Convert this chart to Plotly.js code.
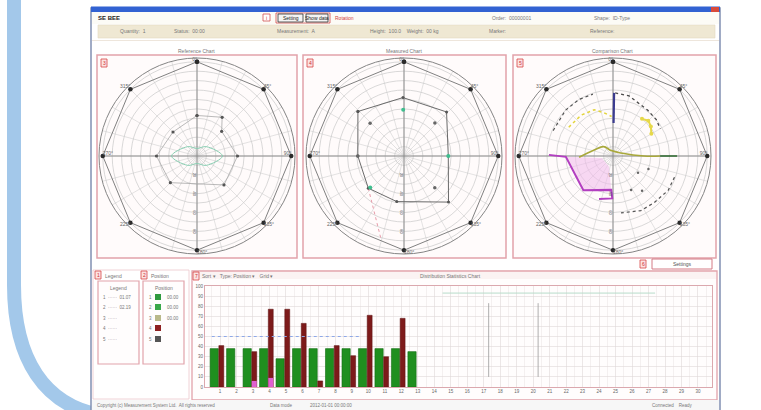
<!DOCTYPE html>
<html><head><meta charset="utf-8">
<script src="https://cdn.plot.ly/plotly-3.0.1.min.js"></script>
<style>html,body{margin:0;padding:0;background:#fff;}#chart{width:761px;height:410px;}</style>
</head><body><div id="chart"></div>
<script>
const W=761,H=410;
const X=x=>x/W, Y=y=>1-y/H;

// ---------- bar chart data ----------
const slotCats=[1,2,3,4,5,6,7,8,9,10,11,12,13,14,15,16,17,18,19,20,21,22,23,24,25,26,27,28,29,30];
const slotLabels=['1','2','3','4','5','6','7','8','9','10','11','12','13','14','15','16','17','18','19','20','21','22','23','24','25','26','27','28','29','30'];
const greenVals=[38,38,38,38,28,38,38,38,38,38,38,38,35,null,null,null,null,null,null,null,null,null,null,null,null,null,null,null,null,null];
const redVals=[41,null,35,77,77,63,6,41,31,71,30,68,null,null,null,null,null,null,null,null,null,null,null,null,null,null,null,null,null,null];
const pinkVals=[null,null,6,9,null,null,null,null,null,null,null,null,null,null,null,null,null,null,null,null,null,null,null,null,null,null,null,null,null,null];
const barYTicks=[0,10,20,30,40,50,60,70,80,90,100];
const barYTickText=['0','10','20','30','40','50','60','70','80','90','100'];
const refLevel=50;
const upperLevel=93;
const cursorSlots=[17.3,20.3];
const cursorRange=[10,83];

// ---------- polar data ----------
const outerTheta=[0,45,90,135,180,225,270,315,0];
const outerR=[100,100,100,100,100,100,100,100,100];
const crossTheta=[0,180,null,90,270];
const crossR=[100,100,null,100,100];
const angleLabelText=['0°','45°','90°','135°','180°','225°','270°','315°'];
const angleLabelTheta=[0,45,90,135,180,225,270,315];
const angleLabelR=[100,100,100,100,100,100,100,100];
const angleLabelPos=['top left','top right','top left','bottom right','bottom right','bottom left','top right','top left'];
const radialTicks=[10,20,30,40,50,60,70,80,90,100];
const radialTickText=['','20','','40','','60','','80','',''];
const spokeTicks=[0,15,30,45,60,75,90,105,120,135,150,165,180,195,210,225,240,255,270,285,300,315,330,345];

// panel 1
const p1Theta=[0,33,45,90,137,225,270,315,0];
const p1R=[43,49,37,43,42,40,43,36,43];
const p1CoreTheta=[0,45,90,135,180,225,270,315,360];
const p1CoreR=[8,14,27,14,8,14,27,14,8];
// panel 2
const p2Theta=[314,359,44,90,136,189,228,270,314];
const p2R=[68,62,65,47,68,49,51,49,68];
const p2DotTheta=[314,43,136,270];
const p2DotR=[50,48,47,49];
const p2GreenTheta=[359,90,227];
const p2GreenR=[49,47,49];
const p2PinkTheta=[228,196];
const p2PinkR=[51,90];
// panel 3
const p3NavyTheta=[1,1];
const p3NavyR=[67,35];
const p3DarkArcTheta=[2,15,37,50,60];
const p3DarkArcR=[67,66,61,60,58];
const p3YellowTheta=[303,322,338,348,358];
const p3YellowR=[56,55,53,47,42];
const p3YellowBlobTheta=[38,45,52,60];
const p3YellowBlobR=[50,53,51,47];
const p3LeftArcTheta=[293,314,329,342];
const p3LeftArcR=[69,70,70,69];
const p3BottomArcTheta=[109,122,139,153,172];
const p3BottomArcR=[69,69,66,65,61];
const p3InnerDotTheta=[124,152,140,110];
const p3InnerDotR=[32,41,48,40];
const p3MagentaTheta=[271,269,221,183,181,198];
const p3MagentaR=[68,50,48,36,45,48];
const p3PinkTheta=[269,221,183,200,260];
const p3PinkR=[50,48,36,12,12];
const p3OliveTheta=[268,288,315,342,69,90,90];
const p3OliveR=[36,21,14,6,9,33,50];
const p3GreenEndTheta=[90,90];
const p3GreenEndR=[50,68];

const FONT='Liberation Sans';
const traces=[];
function polarBase(sp){
  traces.push({type:'scatterpolar',subplot:sp,theta:crossTheta,r:crossR,mode:'lines',line:{color:'#8e8e8e',width:1},hoverinfo:'skip'});
  traces.push({type:'scatterpolar',subplot:sp,theta:outerTheta,r:outerR,mode:'lines+markers',line:{color:'#808080',width:1},marker:{color:'#2a2a2a',size:4.5},hoverinfo:'skip'});
  traces.push({type:'scatterpolar',subplot:sp,theta:angleLabelTheta,r:angleLabelR,mode:'text',text:angleLabelText,textposition:angleLabelPos,textfont:{size:5,color:'#666',family:FONT},cliponaxis:false,hoverinfo:'skip'});
}
polarBase('polar');
traces.push({type:'scatterpolar',subplot:'polar',theta:p1CoreTheta,r:p1CoreR,mode:'lines',line:{color:'#86cdb0',width:1,shape:'spline'},hoverinfo:'skip'});
traces.push({type:'scatterpolar',subplot:'polar',theta:p1Theta,r:p1R,mode:'lines+markers',line:{color:'#a8a8a8',width:0.8},marker:{color:'#555',size:3.2},hoverinfo:'skip'});

polarBase('polar2');
traces.push({type:'scatterpolar',subplot:'polar2',theta:p2PinkTheta,r:p2PinkR,mode:'lines',line:{color:'#e79aa8',width:1,dash:'dot'},hoverinfo:'skip'});
traces.push({type:'scatterpolar',subplot:'polar2',theta:p2Theta,r:p2R,mode:'lines+markers',line:{color:'#6a6a6a',width:1},marker:{color:'#555',size:3},hoverinfo:'skip'});
traces.push({type:'scatterpolar',subplot:'polar2',theta:p2DotTheta,r:p2DotR,mode:'markers',marker:{color:'#666',size:3.5},hoverinfo:'skip'});
traces.push({type:'scatterpolar',subplot:'polar2',theta:p2GreenTheta,r:p2GreenR,mode:'markers',marker:{color:'#3fbf8f',size:4},hoverinfo:'skip'});

polarBase('polar3');
traces.push({type:'scatterpolar',subplot:'polar3',theta:p3PinkTheta,r:p3PinkR,mode:'lines',fill:'toself',fillcolor:'rgba(240,185,235,0.55)',line:{width:0},hoverinfo:'skip'});
traces.push({type:'scatterpolar',subplot:'polar3',theta:p3MagentaTheta,r:p3MagentaR,mode:'lines',line:{color:'#b23fc0',width:2},hoverinfo:'skip'});
traces.push({type:'scatterpolar',subplot:'polar3',theta:p3OliveTheta,r:p3OliveR,mode:'lines',line:{color:'#a8a83a',width:1.6,shape:'spline'},hoverinfo:'skip'});
traces.push({type:'scatterpolar',subplot:'polar3',theta:p3GreenEndTheta,r:p3GreenEndR,mode:'lines',line:{color:'#2f6b2f',width:1.6},hoverinfo:'skip'});
traces.push({type:'scatterpolar',subplot:'polar3',theta:p3YellowTheta,r:p3YellowR,mode:'lines',line:{color:'#e2d43c',width:1.5,dash:'dot'},hoverinfo:'skip'});
traces.push({type:'scatterpolar',subplot:'polar3',theta:p3YellowBlobTheta,r:p3YellowBlobR,mode:'lines+markers',line:{color:'#e6d84a',width:2},marker:{color:'#e6d84a',size:4},hoverinfo:'skip'});
traces.push({type:'scatterpolar',subplot:'polar3',theta:p3DarkArcTheta,r:p3DarkArcR,mode:'lines',line:{color:'#4a4a4a',width:1.3,dash:'dot'},hoverinfo:'skip'});
traces.push({type:'scatterpolar',subplot:'polar3',theta:p3LeftArcTheta,r:p3LeftArcR,mode:'lines',line:{color:'#555',width:1.2,dash:'dot'},hoverinfo:'skip'});
traces.push({type:'scatterpolar',subplot:'polar3',theta:p3BottomArcTheta,r:p3BottomArcR,mode:'lines',line:{color:'#555',width:1.2,dash:'dot'},hoverinfo:'skip'});
traces.push({type:'scatterpolar',subplot:'polar3',theta:p3InnerDotTheta,r:p3InnerDotR,mode:'markers',marker:{color:'#666',size:2.5},hoverinfo:'skip'});
traces.push({type:'scatterpolar',subplot:'polar3',theta:p3NavyTheta,r:p3NavyR,mode:'lines',line:{color:'#3b3b8f',width:2.2},hoverinfo:'skip'});

// bars
traces.push({type:'bar',x:slotCats,y:greenVals,width:0.5,offset:-0.6,marker:{color:'#1f8f1f',line:{color:'#136b13',width:0.6}},hoverinfo:'skip'});
traces.push({type:'bar',x:slotCats,y:redVals,width:0.3,offset:-0.07,marker:{color:'#7d1a1a',line:{color:'#5a1010',width:0.5}},hoverinfo:'skip'});
traces.push({type:'bar',x:slotCats,y:pinkVals,width:0.3,offset:-0.07,marker:{color:'#e05fd0'},hoverinfo:'skip'});

function polarLayout(cx){
  const cy=156,rad=98;
  return {
    domain:{x:[X(cx-rad),X(cx+rad)],y:[Y(cy+rad),Y(cy-rad)]},
    bgcolor:'rgba(0,0,0,0)',
    radialaxis:{range:[0,104],tickmode:'array',tickvals:radialTicks,ticktext:radialTickText,angle:270,tickangle:0,showline:false,ticks:'',gridcolor:'#c9c9c9',gridwidth:0.7,tickfont:{size:4,color:'#444',family:FONT}},
    angularaxis:{direction:'clockwise',rotation:90,tickmode:'array',tickvals:spokeTicks,showticklabels:false,ticks:'',gridcolor:'#d0d0d0',gridwidth:0.6,linecolor:'#858585',linewidth:1}
  };
}

const shapes=[];
function R(x0,y0,x1,y1,o){shapes.push(Object.assign({type:'rect',xref:'paper',yref:'paper',x0:X(x0),x1:X(x1),y0:Y(y1),y1:Y(y0),line:{width:0},layer:'below'},o));}
const pink='#e2a3ab';
// left decorative arc
shapes.push({type:'path',xref:'paper',yref:'paper',layer:'below',
  path:`M ${X(14)},${Y(-5)} L ${X(14)},${Y(285)} C ${X(14)},${Y(360)} ${X(45)},${Y(405)} ${X(100)},${Y(415)}`,
  line:{color:'#a3c8ea',width:14}});
// window
R(91,8,720,412,{fillcolor:'#ffffff',line:{color:'#8190b3',width:1.5}});
R(91,6.5,720,12,{fillcolor:'#3262d2'});
R(711,7,719,12,{fillcolor:'#d84a3a'});
R(92,12,719,24,{fillcolor:'#fcfbf6'});
R(98,25,715,38,{fillcolor:'#efe8d3',line:{color:'#e2d9c0',width:0.6}});
R(92,40,719,41,{fillcolor:'#eee6dc'});
// header buttons
R(263,14,270,21,{fillcolor:'#fff',line:{color:'#d05050',width:0.8}});
R(276,13,330,23,{fillcolor:'rgba(0,0,0,0)',line:{color:'#d04a4a',width:0.8}});
R(278,14,303,22,{fillcolor:'#f4f4f4',line:{color:'#333',width:0.8}});
R(306,14,328,22,{fillcolor:'#f4f4f4',line:{color:'#333',width:0.8}});
// polar panels
R(97,55,297,258,{fillcolor:'#fffbfb',line:{color:pink,width:1.5}});
R(303,55,506,258,{fillcolor:'#fffbfb',line:{color:pink,width:1.5}});
R(513,55,716,258,{fillcolor:'#fffbfb',line:{color:pink,width:1.5}});
// settings button
shapes.push({type:'rect',xref:'paper',yref:'paper',x0:X(652),x1:X(712),y0:Y(269),y1:Y(259),line:{color:'#d47a85',width:1},fillcolor:'#fff',layer:'below'});
// legend boxes
R(93,270,189,399,{fillcolor:'rgba(0,0,0,0)',line:{color:'#ecc7cc',width:0.8}});
R(98,281,139,364,{fillcolor:'#fffdfd',line:{color:pink,width:1.2}});
R(143,281,184,364,{fillcolor:'#fffdfd',line:{color:pink,width:1.2}});
// legend swatches
const swatchColors=['#2f9a3f','#3aa84a','#b9b98a','#8e2020','#555'];
const swatchY=[297,307,318,328,339];
swatchColors.forEach((c,i)=>R(155,swatchY[i]-3,161,swatchY[i]+3,{fillcolor:c,layer:'above'}));
// bar chart frame
R(192,271,717,400,{fillcolor:'#fffdfd',line:{color:pink,width:1.3}});
R(193,272,716,279,{fillcolor:'#fbf3f3'});
// reference levels and cursors
shapes.push({type:'line',xref:'x',yref:'y',x0:slotCats[0]-0.5,x1:slotCats[8]+0.5,y0:refLevel,y1:refLevel,line:{color:'#8ea8e8',width:1,dash:'dot'},layer:'above'});
shapes.push({type:'line',xref:'x',yref:'y',x0:slotCats[13]+0.5,x1:slotCats[26]+0.4,y0:upperLevel,y1:upperLevel,line:{color:'#b7dccb',width:1},layer:'above'});
cursorSlots.forEach(s=>shapes.push({type:'line',xref:'x',yref:'y',x0:s,x1:s,y0:cursorRange[0],y1:cursorRange[1],line:{color:'#9a9a9a',width:0.8},layer:'above'}));
// status bar
R(92,400,719,411,{fillcolor:'#f7f7f7'});

const ann=[];
function T(x,y,t,o){ann.push(Object.assign({xref:'paper',yref:'paper',x:X(x),y:Y(y),text:t,showarrow:false,xanchor:'left',yanchor:'middle',font:{size:5,color:'#777',family:FONT}},o||{}));}
// panel number icons
[[101,59,'3'],[307,59,'4'],[517,59,'5'],[640,260,'6'],[95,271,'1'],[141,271,'2'],[193,272,'7']].forEach(d=>{
  R(d[0],d[1],d[0]+6,d[1]+8,{fillcolor:'#fbe3e3',line:{color:'#d84848',width:0.8},layer:'above'});
  T(d[0]+3,d[1]+4,d[2],{xanchor:'center',font:{size:5,color:'#d03030',family:FONT}});
});
T(96,18,'<b>SE BEE</b>',{font:{size:6,color:'#222',family:FONT}});
T(266.5,17.5,'i',{xanchor:'center',font:{size:5,color:'#d03030',family:FONT}});
T(290.5,18,'Setting',{xanchor:'center',font:{size:5,color:'#222',family:FONT}});
T(317,18,'Show data',{xanchor:'center',font:{size:5,color:'#222',family:FONT}});
T(333,18,'Rotation',{font:{size:5,color:'#d04040',family:FONT}});
T(490,18,'Order:  00000001',{});
T(592,18,'Shape:  ID-Type',{});
T(118,31,'Quantity:  1',{});
T(172,31,'Status:  00:00',{});
T(275,31,'Measurement:  A',{});
T(368,31,'Height:  100.0    Weight:  00 kg',{});
T(487,31,'Marker:',{});
T(588,31,'Reference:',{});
T(197,51,'Reference Chart',{xanchor:'center'});
T(404,51,'Measured Chart',{xanchor:'center'});
T(612,51,'Comparison Chart',{xanchor:'center'});
T(682,264,'Settings',{xanchor:'center',font:{size:5,color:'#555',family:FONT}});
T(103,275.5,'Legend',{});
T(149,275.5,'Position',{});
T(118.5,288,'Legend',{xanchor:'center'});
T(163.5,288,'Position',{xanchor:'center'});
['1  ······  01.07','2  ······  02.19','3  ······','4  ······','5  ······'].forEach((t,i)=>T(101,swatchY[i],t,{font:{size:4.5,color:'#777',family:FONT}}));
['1','2','3','4','5'].forEach((t,i)=>T(147,swatchY[i],t,{font:{size:4.5,color:'#777',family:FONT}}));
['00.00','00.00','00.00'].forEach((t,i)=>T(165,swatchY[i],t,{font:{size:4.5,color:'#777',family:FONT}}));
T(200,275.5,'Sort ▾   Type: Position ▾   Grid ▾',{});
T(450,275.5,'Distribution Statistics Chart',{xanchor:'center'});
T(95,405,'Copyright (c) Measurement System Ltd.  All rights reserved',{font:{size:4.5,color:'#777',family:FONT}});
T(268,405,'Data mode',{font:{size:4.5,color:'#777',family:FONT}});
T(308,405,'2012-01-01 00:00:00',{font:{size:4.5,color:'#777',family:FONT}});
T(650,405,'Connected    Ready',{font:{size:4.5,color:'#777',family:FONT}});

const layout={
  width:W,height:H,margin:{l:0,r:0,t:0,b:0},paper_bgcolor:'#ffffff',plot_bgcolor:'rgba(0,0,0,0)',
  showlegend:false,barmode:'overlay',
  font:{family:FONT},
  polar:polarLayout(197),polar2:polarLayout(404),polar3:polarLayout(613),
  xaxis:{domain:[X(205),X(712)],range:[0.09,30.85],tickmode:'array',tickvals:slotCats,ticktext:slotLabels,
    tickfont:{size:4.5,color:'#666'},showgrid:true,gridcolor:'#e0d9d9',gridwidth:0.6,
    minor:{tickmode:'linear',tick0:0.5,dtick:1,showgrid:true,gridcolor:'#e9e3e3',gridwidth:0.5,ticks:''},
    zeroline:false,showline:true,linecolor:'#dba8ae',mirror:true,ticks:'',fixedrange:true},
  yaxis:{domain:[Y(387),Y(286)],range:[0,100],tickmode:'array',tickvals:barYTicks,ticktext:barYTickText,
    tickfont:{size:4.5,color:'#666'},gridcolor:'#e0d9d9',gridwidth:0.6,zeroline:false,showline:true,
    linecolor:'#dba8ae',mirror:true,ticks:'',fixedrange:true},
  shapes:shapes,annotations:ann
};
Plotly.newPlot('chart',traces,layout,{staticPlot:true,displayModeBar:false});
</script></body></html>
